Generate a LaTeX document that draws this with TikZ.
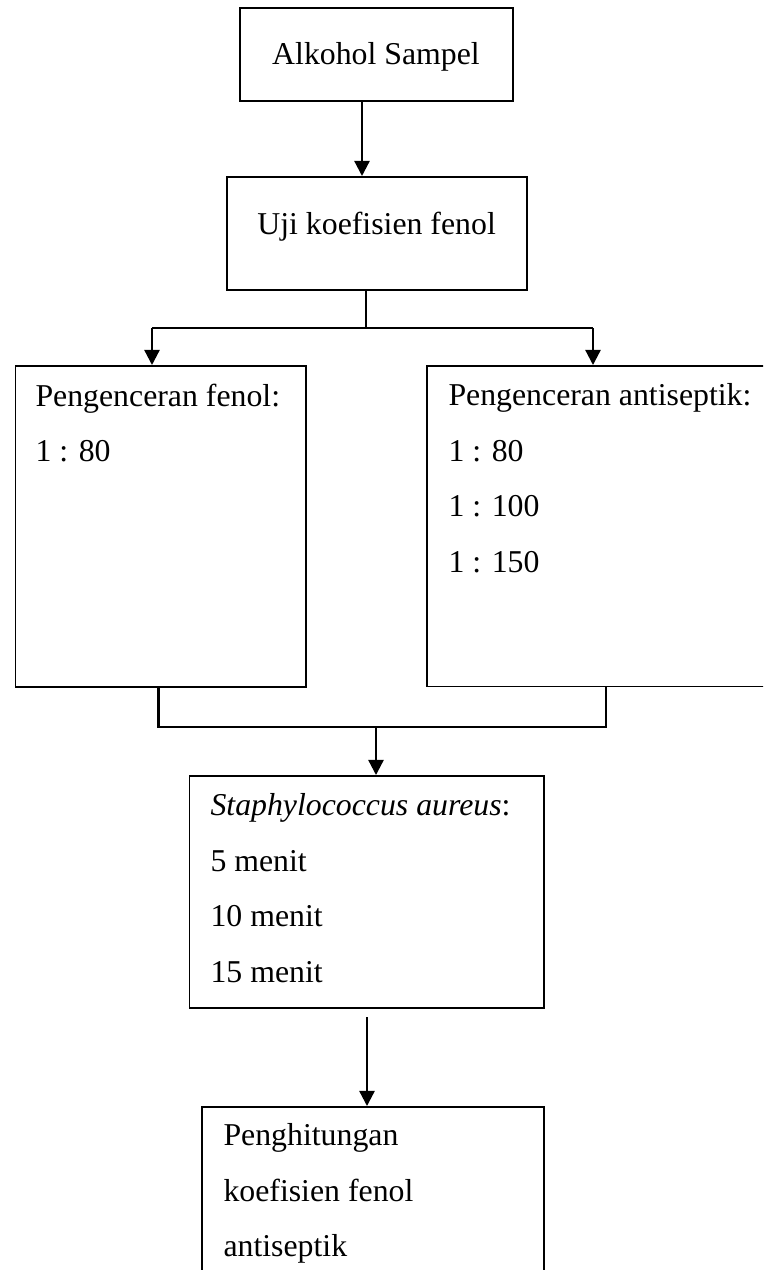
\documentclass[tikz,border=0pt]{standalone}
\usepackage{fontspec}
\setmainfont{Liberation Serif}
\usetikzlibrary{arrows.meta,fit,positioning}
\tikzstyle{box}=[draw,rectangle,line width=.75pt,inner sep=0pt]
\tikzstyle{txt}=[inner sep=0pt,align=left,anchor=north west,
font=\fontsize{12}{20.9}\selectfont]
\tikzstyle{line}=[line width=.85pt]
\tikzstyle{arr}=[line,-{Triangle[length=5.7pt,width=5.7pt]}]

\begin{document}
\begin{tikzpicture}[x=0.3774pt, y=-0.3774pt]
  \useasboundingbox (0,0) rectangle (763,1270);
  \clip (0,0) rectangle (763,1270);

  % boxes
  \node[box, fit={(240,8) (513,101)}] (sampel) {};
  \node[box, fit={(227,177) (526.5,290)}] (uji) {};
  \node[box, fit={(15.5,366) (306,687)}] (fenol) {};
  \node[box, fit={(427,366) (790,686.5)}] (antiseptik) {};
  \node[box, fit={(189.5,776) (543.5,1008)}] (staph) {};
  \node[box, fit={(202,1107) (544,1300)}] (hitung) {};

  % texts
  \node[txt, anchor=base] (tsampel) at (376,65) {Alkohol Sampel};
  \node[txt, anchor=base] (tuji) at (376.6,235) {Uji koefisien fenol};
  \node[txt] (tfenol) at (35,383.3) {Pengenceran fenol:\\1 : 80};
  \node[txt] (tantiseptik) at (448,383.3)
    {Pengenceran antiseptik:\\1 : 80\\1 : 100\\1 : 150};
  \node[txt] (tstaph) at (210,793.3)
    {\textit{Staphylococcus aureus}:\\5 menit\\10 menit\\15 menit};
  \node[txt] (thitung) at (223,1123.3)
    {Penghitungan\\koefisien fenol\\antiseptik};

  % junctions
  \coordinate (j1) at (366,328);
  \coordinate (l1) at (152,328);
  \coordinate (r1) at (593,328);
  \coordinate (j2) at (376,727);
  \coordinate (l2) at (158.6,727);
  \coordinate (r2) at (606,727);
  \coordinate (h1) at (367,1017);

  \draw[arr] (sampel.south -| 362,0) -- (uji.north -| 362,0);
  \draw[line width=.5pt] (uji.south -| j1) -- (j1);
  \draw[line] (l1) -- (r1);
  \draw[arr] (l1) -- (l1 |- fenol.north);
  \draw[arr] (r1) -- (r1 |- antiseptik.north);
  \draw[line] (fenol.south -| l2) -- (l2) -- (r2) -- (antiseptik.south -| r2);
  \draw[arr] (j2) -- (j2 |- staph.north);
  \draw[arr] (h1) -- (h1 |- hitung.north);
\end{tikzpicture}
\end{document}
